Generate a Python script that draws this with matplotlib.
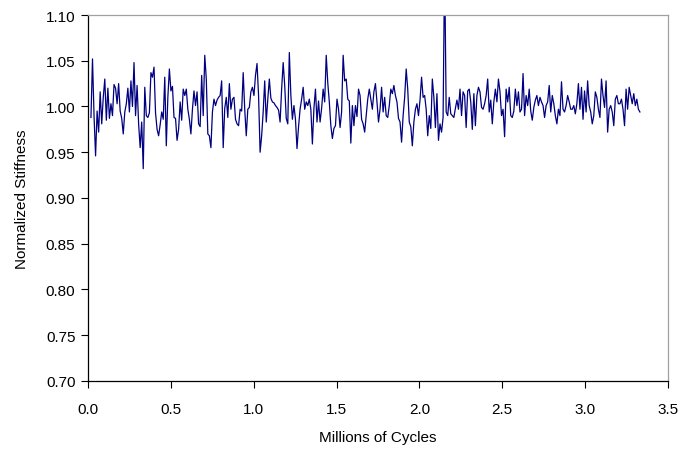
import numpy as np
import matplotlib
matplotlib.use("Agg")
import matplotlib.pyplot as plt
from matplotlib.ticker import FormatStrFormatter, MultipleLocator

plt.rcParams['font.family'] = ['Liberation Sans', 'DejaVu Sans']

# Cycle range covered by the stiffness measurements (millions of cycles)
first_cycle = 0.018
last_cycle = 3.331

# Normalized stiffness readings, in measurement order
stiffness = [
    0.988, 1.052, 0.990, 0.946, 0.995, 0.972, 1.016, 0.981, 1.010, 1.030,
    0.985, 1.020, 0.987, 1.003, 0.990, 1.024, 1.020, 1.003, 1.025, 0.995,
    0.987, 0.970, 0.994, 1.003, 1.020, 0.994, 1.028,
    1.000, 1.048, 0.990, 1.023, 0.981, 0.955, 0.983, 0.932, 1.021, 0.990,
    0.988, 0.993, 1.037, 1.032, 1.043, 0.993, 0.975, 0.968, 0.980, 0.994,
    0.986, 1.032, 0.957, 1.010, 1.041, 1.017, 1.022, 0.988, 0.987, 0.963,
    0.975, 1.005, 0.985, 1.019, 1.012, 1.019, 0.997, 0.986, 0.970, 0.997,
    1.017, 1.001, 1.016, 0.981, 0.978, 1.034, 0.990, 1.056, 1.030, 0.970,
    0.968, 0.955, 0.994, 1.008, 1.001, 1.007, 1.010, 1.012, 1.028, 0.955,
    0.998, 1.010, 0.988, 1.025, 0.997, 1.008, 1.010, 0.986, 0.981, 0.979,
    0.997, 0.995, 1.037, 0.997, 0.968, 0.997, 0.999, 1.016, 1.021, 1.012,
    1.034, 1.047, 1.012, 0.950, 0.968, 0.994, 1.028, 0.983, 1.008, 1.030,
    1.009, 1.005, 1.004, 1.001, 0.999, 0.996, 0.983, 1.019, 1.048, 1.023,
    0.987, 0.981, 1.059, 1.012, 0.986, 1.001, 0.986, 0.954, 0.978, 0.997,
    1.008, 1.021, 0.997, 1.005, 1.001, 1.008, 0.997, 0.959, 0.998, 1.019,
    0.983, 1.006, 0.983, 0.998, 1.019, 1.005, 1.056, 1.026, 1.005, 0.979,
    0.965, 0.976, 0.979, 1.008, 0.997, 0.977, 0.994, 1.056, 1.028, 1.030,
    1.008, 1.006, 0.960, 1.001, 0.979, 1.001, 0.989, 1.019, 1.012, 0.986,
    0.981, 0.972, 0.990, 1.008, 1.019, 1.008, 0.997, 1.016, 1.025, 1.005,
    0.983, 0.997, 1.021, 0.994, 1.010, 0.990, 0.988, 1.001, 1.019, 1.014,
    1.023, 1.012, 1.005, 0.987, 0.983, 0.961, 0.990, 1.010, 1.041, 1.019,
    0.983, 0.978, 0.957, 0.983, 0.997, 1.003, 0.990, 1.007, 1.032, 1.010,
    1.012, 0.997, 0.968, 0.990, 0.976, 1.030, 1.010, 0.977, 1.014, 0.963,
    0.981, 0.972, 0.988, 1.160, 0.994, 0.990, 1.010, 0.992, 0.990, 0.988,
    0.998, 1.007, 0.997, 1.019, 0.990, 1.016, 1.012, 0.977, 1.017, 1.019,
    1.005, 0.975, 1.014, 0.979, 1.012, 1.021, 1.016, 0.999, 0.997, 1.003,
    1.012, 1.030, 0.994, 1.007, 0.981, 1.005, 1.019, 1.005, 1.030, 1.016,
    0.990, 0.997, 0.967, 1.019, 1.005, 1.021, 0.990, 0.988, 0.995, 1.019,
    1.001, 1.016, 0.994, 0.997, 1.036, 0.990, 1.012, 1.001, 1.019, 0.995,
    0.985, 0.999, 1.007, 1.012, 1.001, 1.010, 1.005, 1.001, 0.988, 1.001,
    1.005, 1.023, 0.994, 1.012, 1.003, 0.990, 0.981, 0.997, 0.990, 1.027,
    0.997, 0.994, 1.001, 1.012, 1.005, 0.997, 0.997, 1.001, 0.992, 1.003,
    1.025, 0.997, 1.021, 0.986, 1.017, 0.994, 1.028, 1.001, 0.994, 0.981,
    0.990, 1.016, 1.010, 0.997, 0.988, 1.030, 1.012, 0.999, 1.028, 0.972,
    0.997, 1.001, 0.994, 0.979, 1.008, 1.012, 1.003, 1.003, 1.008, 0.997,
    0.979, 1.019, 0.997, 1.021, 1.012, 1.003, 1.014, 1.001, 1.008, 0.997,
    0.994,
]

cycles = np.linspace(first_cycle, last_cycle, len(stiffness))

fig = plt.figure(figsize=(6.9, 4.52), dpi=100)
ax = fig.add_axes([0.1275, 0.155, 0.8405, 0.8096])

ax.plot(cycles, stiffness, color='#000080', linewidth=0.9)

ax.set_xlim(0, 3.5)
ax.set_ylim(0.70, 1.10)
ax.xaxis.set_major_locator(MultipleLocator(0.5))
ax.yaxis.set_major_locator(MultipleLocator(0.05))
ax.xaxis.set_major_formatter(FormatStrFormatter('%.1f'))
ax.yaxis.set_major_formatter(FormatStrFormatter('%.2f'))

ax.tick_params(axis='both', direction='out', length=5, width=0.8,
               labelsize=11, colors='black')
ax.tick_params(axis='x', pad=10)
ax.tick_params(axis='y', pad=4)

for side in ('left', 'bottom'):
    ax.spines[side].set_color('black')
    ax.spines[side].set_linewidth(0.9)
for side in ('top', 'right'):
    ax.spines[side].set_color('#a0a0a0')
    ax.spines[side].set_linewidth(0.9)

ax.set_xlabel('Millions of Cycles', fontsize=11, labelpad=10)
ax.set_ylabel('Normalized Stiffness', fontsize=11, labelpad=12)

fig.savefig('out.png', dpi=100)
